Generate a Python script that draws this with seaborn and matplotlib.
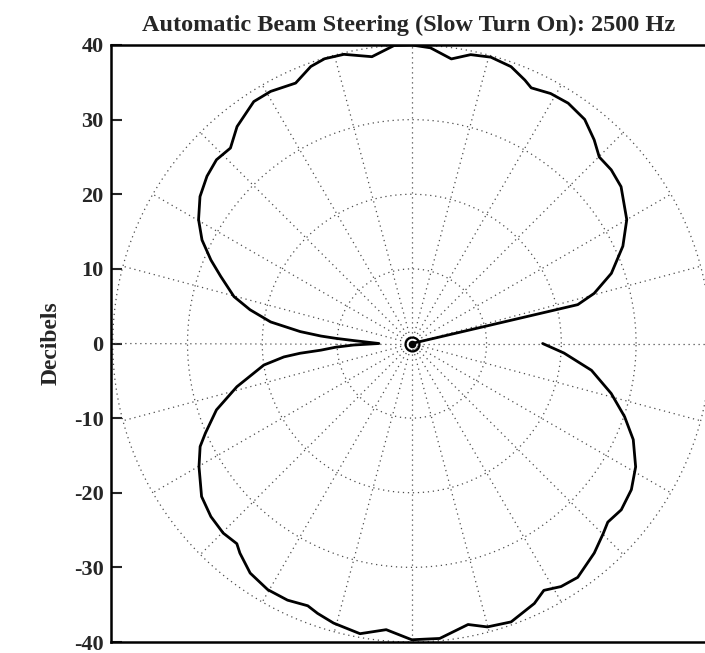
import numpy as np
import pandas as pd
import matplotlib
matplotlib.use("Agg")
import matplotlib.pyplot as plt
import seaborn as sns

# ---- data ----
title = "Automatic Beam Steering (Slow Turn On): 2500 Hz"
y_ticks = [-40, -30, -20, -10, 0, 10, 20, 30, 40]
grid_radii = [10, 20, 30, 40]
spoke_angles = list(range(0, 360, 15))

# beam pattern: angle (deg) and level (dB)
angle_deg = [13.2, 13.2, 15.4, 19.4, 24.8, 30.0, 36.9, 41.1, 44.9, 48.2, 52.4, 57.0, 61.0,
             65.0, 66.8, 70.3, 74.6, 78.5, 82.1, 86.4, 90.0, 93.4, 97.9, 103.2, 107.0,
             110.0, 114.0, 119.2, 123.1, 128.8, 132.8, 136.7, 140.7, 145.2, 149.8, 153.7,
             157.4, 160.6, 165.2, 168.2, 171.3, 173.9, 175.3, 176.1, 177.1, 180.0,
             181.5, 182.8, 184.2, 185.0, 186.0, 188.3, 193.9, 198.8, 203.5, 206.0, 210.1,
             216.1, 220.8, 225.2, 228.9, 230.7, 234.9, 239.7, 244.2, 248.4, 250.8, 254.4,
             259.9, 264.9, 270.0, 275.4, 281.3, 284.9, 289.6, 295.2, 298.1, 301.5, 305.3,
             311.0, 315.2, 317.6, 321.5, 326.3, 331.1, 336.5, 341.0, 345.9, 351.5, 356.4,
             360.0]
level_db = [0.0, 22.8, 25.3, 28.3, 31.1, 33.2, 35.0, 35.4, 35.4, 36.6, 37.9, 38.4, 38.3,
            37.8, 38.4, 39.4, 39.8, 39.5, 38.5, 39.7, 40.0, 40.0, 38.8, 39.8, 39.9,
            39.5, 38.2, 38.7, 38.7, 37.3, 35.7, 35.9, 35.4, 34.5, 33.0, 31.3,
            29.1, 27.1, 24.6, 22.1, 19.1, 15.0, 12.2, 10.2, 7.8, 4.4,
            7.8, 10.2, 12.2, 15.0, 17.2, 20.0, 24.1, 27.6, 30.1, 31.5, 32.9,
            34.8, 35.5, 35.8, 35.6, 36.3, 37.6, 38.2, 38.2, 37.8, 38.3, 38.9,
            39.5, 38.5, 39.7, 39.7, 38.4, 39.3, 39.6, 38.5, 37.5, 38.2, 38.4,
            37.2, 36.1, 35.5, 35.8, 35.3, 34.2, 32.3, 30.1, 27.5, 24.3, 20.4,
            17.5]

# ---- figure ----
sns.set_style("white")
plt.rcParams["font.family"] = ["Liberation Serif", "DejaVu Serif"]
plt.rcParams["font.weight"] = "bold"

fig = plt.figure(figsize=(7.05, 6.53), dpi=100)
ax = fig.add_axes([110.5 / 705, 1 - 642 / 653, (705 - 110.5) / 705 + 0.003, (642 - 45) / 653])

# polar grid
t = np.linspace(0, 2 * np.pi, 721)
for r in grid_radii:
    ax.plot(r * np.cos(t), r * np.sin(t), linestyle=(0, (1, 3)), color="0.3", lw=0.9, zorder=1)
for a in spoke_angles:
    ar = np.deg2rad(a)
    ax.plot([0.8 * np.cos(ar), 40 * np.cos(ar)], [0.8 * np.sin(ar), 40 * np.sin(ar)],
            linestyle=(0, (1, 3)), color="0.3", lw=0.9, zorder=1)

# beam curve
th = np.deg2rad(np.array(angle_deg))
rr = np.array(level_db)
df = pd.DataFrame({"x": rr * np.cos(th), "y": rr * np.sin(th), "order": np.arange(len(rr))})
sns.lineplot(data=df, x="x", y="y", sort=False, estimator=None, color="black", lw=2.0, ax=ax,
             zorder=3)

# centre marker
ax.plot([0], [0], marker="o", ms=10, mfc="none", mec="black", mew=1.6, zorder=4)
ax.plot([0], [0], marker="o", ms=4.5, color="black", zorder=4)

ax.set_xlim(-40.3, 39.5)
ax.set_ylim(-40, 40)
ax.set_xticks([])
ax.set_yticks(y_ticks)
ax.set_yticklabels([str(v) for v in y_ticks])
ax.tick_params(axis="y", direction="in", length=8, width=1.5, labelsize=16, pad=5, left=True)
for lab in ax.get_yticklabels():
    lab.set_fontweight("bold")
ax.set_xlabel("")
ax.set_ylabel("Decibels", fontsize=17, fontweight="bold", labelpad=9)
ax.set_title(title, fontsize=17.5, fontweight="bold", pad=10)

for side in ["left", "top", "bottom"]:
    ax.spines[side].set_linewidth(1.8)
    ax.spines[side].set_color("black")
ax.spines["right"].set_visible(False)

fig.savefig("out.png", dpi=100)
